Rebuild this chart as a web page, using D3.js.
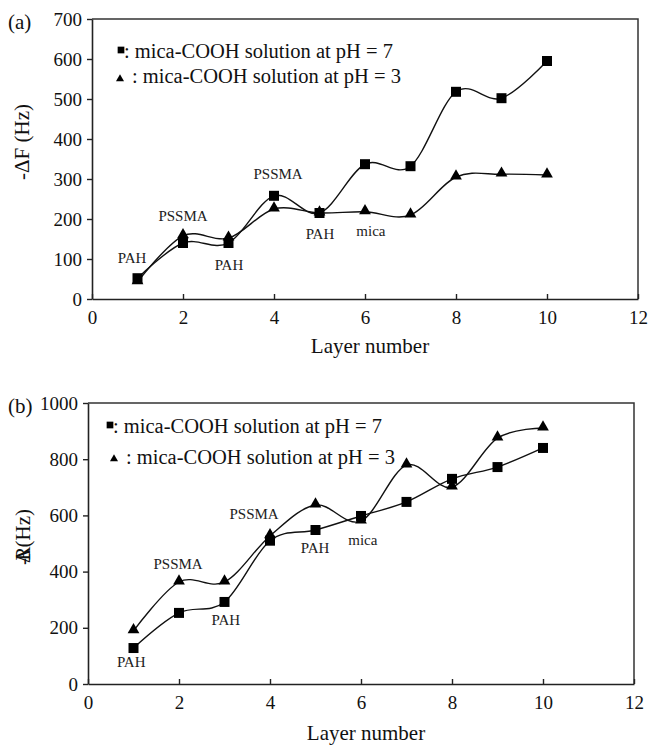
<!DOCTYPE html>
<html>
<head>
<meta charset="utf-8">
<script src="https://cdn.jsdelivr.net/npm/d3@7"></script>
<style>
body { margin: 0; background: #fff; }
svg, svg text { font-family: "Liberation Serif", "Times New Roman", serif; }
</style>
</head>
<body>
<div id="chart"></div>
<script>
var layers = [1, 2, 3, 4, 5, 6, 7, 8, 9, 10];
var dfPH7 = [52, 140, 140, 258, 215, 337, 332, 518, 502, 595];
var dfPH3 = [43, 158, 152, 225, 215, 218, 210, 305, 312, 310];
var drPH7 = [128, 253, 292, 510, 548, 598, 648, 730, 772, 840];
var drPH3 = [189, 363, 363, 527, 637, 580, 779, 701, 875, 911];

var xTicks = [0, 2, 4, 6, 8, 10, 12];
var dfTicks = [0, 100, 200, 300, 400, 500, 600, 700];
var drTicks = [0, 200, 400, 600, 800, 1000];

var legendNames = ["mica-COOH solution at pH = 7", "mica-COOH solution at pH = 3"];

// layer annotations: [label, layer, value]
var dfNotes = [["PAH", 0.88, 90], ["PSSMA", 2.0, 195], ["PAH", 3.01, 72], ["PSSMA", 4.09, 300], ["PAH", 5.01, 150], ["mica", 6.13, 157]];
var drNotes = [["PAH", 0.95, 60], ["PSSMA", 1.98, 409], ["PAH", 3.03, 210], ["PSSMA", 3.65, 587], ["PAH", 4.99, 466], ["mica", 6.04, 495]];

var W = 649, H = 745;
var svg = d3.select("#chart").append("svg")
	.attr("width", W)
	.attr("height", H);

function panel(opt) {
	var x = d3.scaleLinear().domain([0, 12]).range([opt.left, opt.right]);
	var y = d3.scaleLinear().domain([0, opt.yMax]).range([opt.bottom, opt.top]);
	var g = svg.append("g");

	//frame top and right
	g.append("path")
		.attr("d", "M" + opt.left + "," + opt.top + "H" + opt.right + "V" + opt.bottom)
		.attr("fill", "none")
		.attr("stroke", "#333")
		.attr("stroke-width", 1.5);

	//x axis, ticks inside
	var xa = g.append("g")
		.attr("transform", "translate(0," + opt.bottom + ")")
		.call(d3.axisBottom(x).tickValues(xTicks).tickFormat(d3.format("d")).tickSizeInner(-5).tickSizeOuter(0).tickPadding(12));
	//y axis, ticks outside
	var ya = g.append("g")
		.attr("transform", "translate(" + opt.left + ",0)")
		.call(d3.axisLeft(y).tickValues(opt.yTicks).tickFormat(d3.format("d")).tickSizeInner(5).tickSizeOuter(0).tickPadding(5));
	[xa, ya].forEach(function(a) {
		a.attr("font-family", "Liberation Serif").attr("font-size", 19);
		a.select(".domain").attr("stroke", "#222").attr("stroke-width", 1.6);
		a.selectAll(".tick line").attr("stroke", "#222").attr("stroke-width", 1.4);
		a.selectAll(".tick text").attr("fill", "#111");
	});

	//smoothed lines
	var line = d3.line()
		.x(function(d, i) { return x(layers[i]); })
		.y(function(d) { return y(d); })
		.curve(d3.curveCardinal.tension(0));
	[opt.s3, opt.s7].forEach(function(s) {
		g.append("path")
			.attr("d", line(s))
			.attr("fill", "none")
			.attr("stroke", "#111")
			.attr("stroke-width", 1.4);
	});

	var tri = d3.symbol().type(d3.symbolTriangle).size(60);
	var sq = d3.symbol().type(d3.symbolSquare).size(100);
	g.selectAll(".tri")
		.data(opt.s3)
		.enter().append("path")
		.attr("class", "tri")
		.attr("d", tri)
		.attr("transform", function(d, i) { return "translate(" + x(layers[i]) + "," + (y(d) - 1) + ")"; })
		.attr("fill", "#000");
	g.selectAll(".sq")
		.data(opt.s7)
		.enter().append("path")
		.attr("class", "sq")
		.attr("d", sq)
		.attr("transform", function(d, i) { return "translate(" + x(layers[i]) + "," + y(d) + ")"; })
		.attr("fill", "#000");

	//annotations
	g.selectAll(".note")
		.data(opt.notes)
		.enter().append("text")
		.attr("x", function(d) { return x(d[1]); })
		.attr("y", function(d) { return y(d[2]); })
		.attr("text-anchor", "middle")
		.style("font-size", "15px")
		.attr("fill", "#222")
		.text(function(d) { return d[0]; });

	//legend
	var lg = g.append("g");
	lg.append("path")
		.attr("d", d3.symbol().type(d3.symbolSquare).size(45))
		.attr("transform", "translate(" + opt.leg[0][0] + "," + opt.leg[0][1] + ")");
	lg.append("path")
		.attr("d", d3.symbol().type(d3.symbolTriangle).size(28))
		.attr("transform", "translate(" + opt.leg[1][0] + "," + opt.leg[1][1] + ")");
	lg.selectAll(".lt")
		.data(legendNames)
		.enter().append("text")
		.attr("x", function(d, i) { return opt.leg[i][2]; })
		.attr("y", function(d, i) { return opt.leg[i][3]; })
		.style("font-size", "20.5px")
		.attr("fill", "#111")
		.text(function(d) { return ": " + d; });

	//titles
	g.append("text")
		.attr("x", (opt.left + opt.right) / 2 + 5)
		.attr("y", opt.xTitleY)
		.attr("text-anchor", "middle")
		.style("font-size", "21px")
		.attr("fill", "#111")
		.text("Layer number");
	g.append("text")
		.attr("x", 8)
		.attr("y", opt.tagY)
		.style("font-size", "21px")
		.attr("fill", "#111")
		.text(opt.tag);
	return g;
}

var ga = panel({
	left: 92, right: 638, top: 19, bottom: 299, yMax: 700, yTicks: dfTicks,
	s7: dfPH7, s3: dfPH3, notes: dfNotes,
	leg: [[121, 50, 124, 58], [120, 79, 132, 83]],
	xTitleY: 353, tag: "(a)", tagY: 29
});
ga.append("text")
	.attr("transform", "translate(29,142) rotate(-90)")
	.attr("text-anchor", "middle")
	.style("font-size", "21px")
	.attr("fill", "#111")
	.text("-ΔF (Hz)");

var gb = panel({
	left: 88, right: 634, top: 403, bottom: 684, yMax: 1000, yTicks: drTicks,
	s7: drPH7, s3: drPH3, notes: drNotes,
	leg: [[110, 425, 113, 433], [114, 459, 126, 464]],
	xTitleY: 740, tag: "(b)", tagY: 413
});
//compressed label as printed in the source
var yb = gb.append("text")
	.attr("transform", "translate(30,537) rotate(-90)")
	.attr("text-anchor", "middle")
	.style("font-size", "21px")
	.attr("fill", "#111");
yb.append("tspan").text("-");
yb.append("tspan").attr("dx", -5).text("Δ");
yb.append("tspan").attr("dx", -11).text("R");
yb.append("tspan").attr("dx", -1).text("(Hz)");
</script>
</body>
</html>
